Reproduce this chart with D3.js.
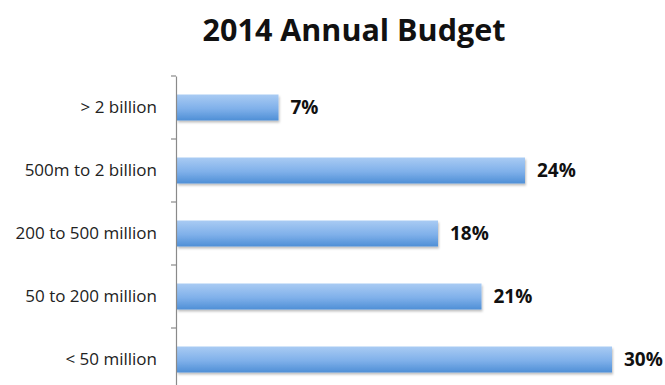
<!DOCTYPE html>
<html>
<head>
<meta charset="utf-8">
<script src="https://cdn.jsdelivr.net/npm/d3@7"></script>
<style>
  html, body { margin: 0; padding: 0; background: #fff; }
  svg { display: block; }
</style>
</head>
<body>
<svg id="chart" width="665" height="385"></svg>
<script>
const categories = ["> 2 billion", "500m to 2 billion", "200 to 500 million", "50 to 200 million", "< 50 million"];
const values = [7, 24, 18, 21, 30];
const valueLabels = ["7%", "24%", "18%", "21%", "30%"];

const svg = d3.select("#chart");
const FONT = "'Open Sans', Lato, sans-serif";

const x = d3.scaleLinear().domain([0, 30]).range([177, 612]);
const y = d3.scaleBand().domain(categories).range([76, 391]).padding(0);
const barH = 26;

// gradient for bar fill
const defs = svg.append("defs");
const grad = defs.append("linearGradient").attr("id", "barGrad")
  .attr("x1", 0).attr("y1", 0).attr("x2", 0).attr("y2", 1);
grad.append("stop").attr("offset", "0%").attr("stop-color", "#a9cbf3");
grad.append("stop").attr("offset", "55%").attr("stop-color", "#7fb0ea");
grad.append("stop").attr("offset", "100%").attr("stop-color", "#4f8fd6");

const shadow = defs.append("filter").attr("id", "shadow")
  .attr("x", "-5%").attr("y", "-20%").attr("width", "115%").attr("height", "160%");
shadow.append("feDropShadow").attr("dx", 1).attr("dy", 2).attr("stdDeviation", 1.2)
  .attr("flood-color", "#000").attr("flood-opacity", 0.25);

// title
svg.append("text")
  .attr("x", 354).attr("y", 41)
  .attr("text-anchor", "middle")
  .attr("font-family", FONT)
  .attr("font-weight", "bold")
  .attr("font-size", 30.5)
  .attr("fill", "#111")
  .text("2014 Annual Budget");

// bars
const rowCenter = d => y(d) + y.bandwidth() / 2;
svg.append("g").selectAll("rect")
  .data(categories)
  .join("rect")
  .attr("x", x(0))
  .attr("y", d => rowCenter(d) - barH / 2)
  .attr("width", (d, i) => x(values[i]) - x(0))
  .attr("height", barH)
  .attr("fill", "url(#barGrad)")
  .attr("filter", "url(#shadow)");

// value labels
svg.append("g").selectAll("text")
  .data(categories)
  .join("text")
  .attr("x", (d, i) => x(values[i]) + 12)
  .attr("y", d => rowCenter(d))
  .attr("dy", "0.36em")
  .attr("font-family", FONT)
  .attr("font-weight", "bold")
  .attr("font-size", 19)
  .attr("fill", "#111")
  .text((d, i) => valueLabels[i]);

// category axis: labels from the band scale
const axis = svg.append("g").attr("transform", `translate(${x(0) - 1},0)`)
  .call(d3.axisLeft(y).tickSize(0).tickPadding(19));
axis.select(".domain").attr("stroke", "#8a8a8a").attr("stroke-width", 1.2);
axis.selectAll("text")
  .attr("font-family", FONT)
  .attr("font-size", 17)
  .attr("fill", "#222");

// tick marks at category boundaries
axis.append("g").selectAll("line")
  .data(categories)
  .join("line")
  .attr("x1", -5).attr("x2", 0)
  .attr("y1", d => y(d)).attr("y2", d => y(d))
  .attr("stroke", "#8a8a8a").attr("stroke-width", 1.2);
</script>
</body>
</html>
